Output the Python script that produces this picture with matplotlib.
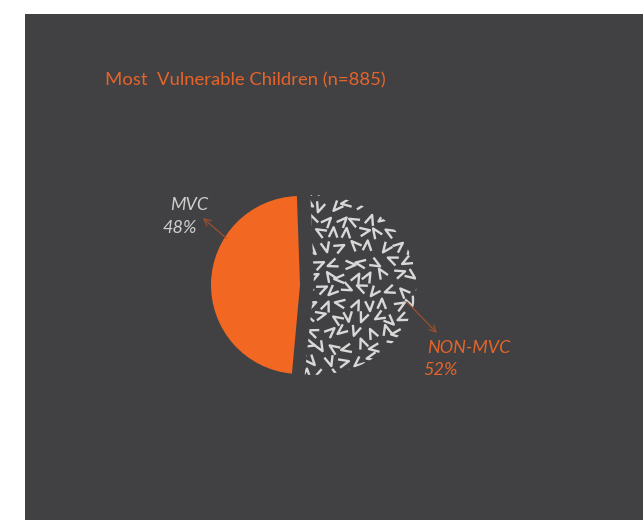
import numpy as np
import matplotlib.pyplot as plt
from matplotlib.collections import LineCollection
from matplotlib.patches import Rectangle
from matplotlib.transforms import Affine2D

# data
labels = ["MVC", "NON-MVC"]
shares = [48, 52]
title = "Most  Vulnerable Children (n=885)"

bg = "#414143"
orange = "#f26722"
H = 520  # figure height in px, used to flip image coords

plt.rcParams['font.family'] = ['Lato', 'DejaVu Sans']

fig = plt.figure(figsize=(6.43, 5.20), dpi=100, facecolor="white")
ax = fig.add_axes([0, 0, 1, 1])
ax.set_facecolor("none")

# dark panel
ax.add_patch(Rectangle((25, 0), 643 - 25, H - 14, facecolor=bg, edgecolor="none", zorder=0))

cx, cy, r = 300, H - 285, 89
wedges, _ = ax.pie(shares, colors=[orange, bg], startangle=92,
                   center=(cx, cy), radius=r, wedgeprops=dict(linewidth=0))

# the textured slice sits a bit to the right and is stretched sideways
wedges[1].set_transform(Affine2D().translate(-cx, -cy).scale(1.15, 1.01)
                        .translate(cx + 14, cy) + ax.transData)


def h(i, j, k):
    # cheap hash for the texture layout
    v = np.sin(i * 12.9898 + j * 78.233 + k * 37.719) * 43758.5453
    return v - np.floor(v)


# V-shaped texture inside the NON-MVC slice
segs = []
step = 14
arm = 11
for i, y in enumerate(np.arange(cy - r - step, cy + r + step, step)):
    for j, x in enumerate(np.arange(cx - step, cx + 1.2 * r + 2 * step, step)):
        a = 2 * np.pi * h(i, j, 0)
        px = x + (i % 2) * step / 2 + 6 * (h(i, j, 1) - 0.5)
        py = y + 6 * (h(i, j, 2) - 0.5)
        # centre the V on its grid point
        px -= 0.5 * arm * np.cos(a)
        py -= 0.5 * arm * np.sin(a)
        segs.append([(px + arm * np.cos(a - 0.4), py + arm * np.sin(a - 0.4)),
                     (px, py),
                     (px + arm * np.cos(a + 0.4), py + arm * np.sin(a + 0.4))])
lc = LineCollection(segs, colors="#d8d8d8", linewidths=1.7, zorder=3, capstyle="butt")
lc.set_clip_path(wedges[1])
ax.add_collection(lc)

ax.set_xlim(0, 643)
ax.set_ylim(0, H)
ax.set_aspect("equal")
ax.axis("off")

ax.text(105, H - 85, title, color="#e5642a", fontsize=13.3, va="baseline")

arrow_col = "#9a4f2f"
ax.annotate("", xy=(203, H - 218), xytext=(226, H - 238),
            arrowprops=dict(arrowstyle="->", color=arrow_col, lw=0.9,
                            shrinkA=0, shrinkB=0, mutation_scale=12))
ax.annotate("", xy=(437, H - 333), xytext=(407, H - 302),
            arrowprops=dict(arrowstyle="->", color=arrow_col, lw=0.9,
                            shrinkA=0, shrinkB=0, mutation_scale=12))

ax.text(170, H - 210, labels[0], color="#cfcfcf", fontsize=13, style="italic", va="baseline")
ax.text(163, H - 233, f"{shares[0]}%", color="#cfcfcf", fontsize=13, style="italic", va="baseline")
ax.text(427, H - 353, labels[1], color="#e5642a", fontsize=13, style="italic", va="baseline")
ax.text(423, H - 375, f"{shares[1]}%", color="#e5642a", fontsize=13, style="italic", va="baseline")

fig.savefig("out.png", dpi=100, facecolor="white")
